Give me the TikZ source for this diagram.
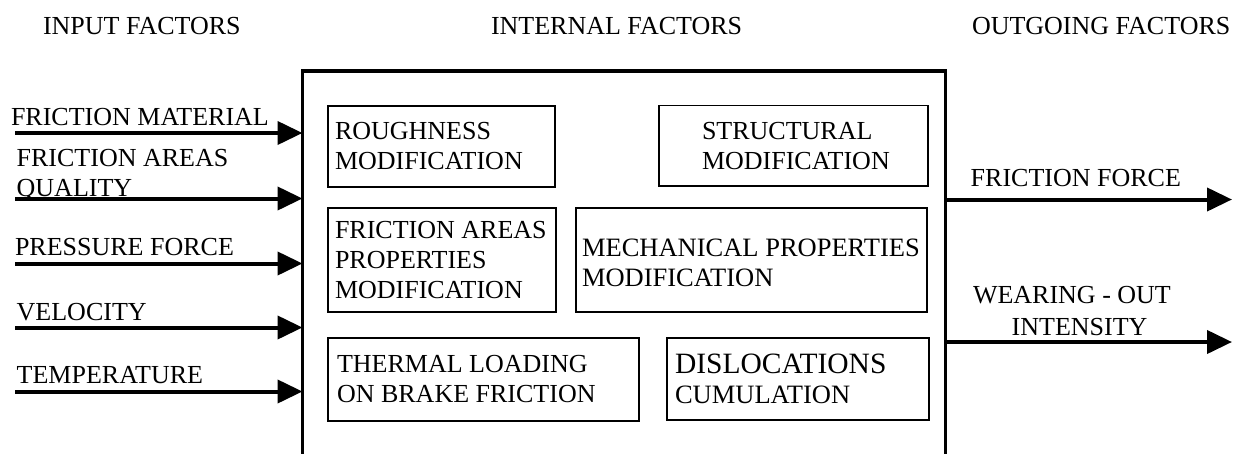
\documentclass[tikz,border=0pt]{standalone}
\usepackage{fontspec}
\setmainfont{Liberation Serif}
\usetikzlibrary{arrows.meta}
\begin{document}
\begin{tikzpicture}[x=1pt,y=-1pt,
  every node/.style={outer sep=0pt},
  txt/.style={inner sep=0pt, font=\fontsize{26}{30}\selectfont, align=left},
  lbl/.style={txt, anchor=base west},
  mlbl/.style={txt, anchor=north west},
  blk/.style={draw, line width=1.8pt, inner sep=0pt, anchor=north west},
  mainbox/.style={draw, line width=3.5pt, inner sep=0pt, anchor=north west},
  flow/.style={line width=4pt, -{Triangle[length=25pt,width=23pt]}}
]
\useasboundingbox[fill=white] (0,0) rectangle (1237,453);
\clip (0,0) rectangle (1237,453);

% headers
\node[lbl] (hin)  at (43,34)  {INPUT FACTORS};
\node[lbl] (hint) at (491,34) {INTERNAL FACTORS};
\node[lbl] (hout) at (972,34) {OUTGOING FACTORS};

% main box (open below the picture)
\node[mainbox, minimum width=643pt, minimum height=430pt] (main) at (302.5,71) {};

% inner boxes
\node[blk, minimum width=227pt, minimum height=81pt]  (b1) at (328,106) {};
\node[blk, minimum width=269pt, minimum height=80.5pt] (b2) at (659,105.5) {};
\node[blk, minimum width=228pt, minimum height=104pt] (b3) at (328,208) {};
\node[blk, minimum width=351pt, minimum height=104pt] (b4) at (576,208) {};
\node[blk, minimum width=311pt, minimum height=83pt]  (b5) at (328,338) {};
\node[blk, minimum width=262pt, minimum height=82pt]  (b6) at (667,338) {};

\node[txt, anchor=west] (t1) at ([xshift=7pt]b1.west) {ROUGHNESS\\MODIFICATION};
\node[txt, anchor=west] (t2) at ([xshift=43pt]b2.west) {STRUCTURAL\\MODIFICATION};
\node[txt, anchor=west] (t3) at ([xshift=7pt]b3.west) {FRICTION AREAS\\PROPERTIES\\MODIFICATION};
\node[txt, anchor=west, font=\fontsize{26.5}{30}\selectfont] (t4) at ([xshift=6pt,yshift=-3pt]b4.west) {MECHANICAL PROPERTIES\\MODIFICATION};
\node[txt, anchor=west] (t5) at ([xshift=9pt]b5.west) {THERMAL LOADING\\ON BRAKE FRICTION};
\node[txt, anchor=west] (t6) at ([xshift=8pt]b6.west) {{\fontsize{29.5}{30}\selectfont DISLOCATIONS}\\{\fontsize{26.5}{30}\selectfont CUMULATION}};

% input arrows
\coordinate (i1) at (15,133);
\coordinate (i2) at (15,198.5);
\coordinate (i3) at (15,263.5);
\coordinate (i4) at (15,327.5);
\coordinate (i5) at (15,391.5);
\foreach \k in {1,...,5} {\draw[flow] (i\k) -- (i\k -| main.west);}

\node[mlbl] (l1) at (11,108)     {FRICTION MATERIAL};
\node[mlbl] (l2) at (16.7,149.7) {FRICTION AREAS\\QUALITY};
\node[mlbl] (l3) at (15,238.7)   {PRESSURE FORCE};
\node[mlbl] (l4) at (16.7,303)   {VELOCITY};
\node[mlbl] (l5) at (16.7,366.4) {TEMPERATURE};

% output arrows
\coordinate (o1) at (1232,199.5);
\coordinate (o2) at (1232,342);
\draw[flow] (o1 -| main.east) -- (o1);
\draw[flow] (o2 -| main.east) -- (o2);

\node[lbl] (r1) at (970.7,186)   {FRICTION FORCE};
\node[lbl] (r2) at (973,303.3)   {WEARING - OUT};
\node[lbl] (r3) at (1011.7,335)  {INTENSITY};
\end{tikzpicture}
\end{document}
